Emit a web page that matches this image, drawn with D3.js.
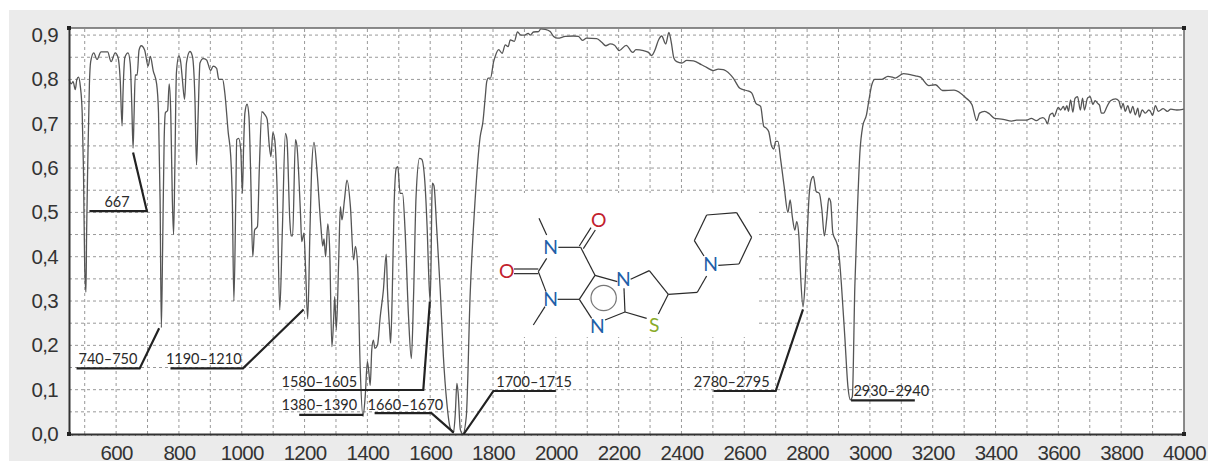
<!DOCTYPE html>
<html>
<head>
<meta charset="utf-8">
<script src="https://cdn.jsdelivr.net/npm/d3@7"></script>
<style>
  html, body { margin: 0; padding: 0; background: #fff; }
  svg { display: block; font-family: Lato, sans-serif; }
  .grid line { stroke: #999; stroke-width: 1; stroke-dasharray: 3 3; }
  .ticklabels text { font-size: 20.5px; letter-spacing: -0.7px; fill: #333; }
  .note { font-size: 14.5px; fill: #2a2a2a; text-anchor: middle; }
  .leader { fill: none; stroke: #222; stroke-width: 2.2; }
</style>
</head>
<body>
<div id="chart"></div>
<script>
var width = 1208, height = 461;

var xTicks = [600, 800, 1000, 1200, 1400, 1600, 1800, 2000, 2200, 2400, 2600, 2800, 3000, 3200, 3400, 3600, 3800, 4000];
var yTicks = [0, 0.1, 0.2, 0.3, 0.4, 0.5, 0.6, 0.7, 0.8, 0.9];

var wavenumber = [
  450, 457, 463, 470, 475, 480, 486, 492, 496, 500,
  504, 506, 510, 515, 519, 529, 539, 552, 573, 584,
  597, 606, 613, 619, 622, 628, 638, 645, 650, 654,
  657, 661, 667, 673, 680, 691, 702, 709, 718, 729,
  735, 740, 744, 748, 753, 757, 764, 769, 774, 779,
  783, 787, 792, 800, 806, 811, 818, 824, 835, 843,
  851, 856, 861, 867, 877, 888, 901, 909, 920, 927,
  939, 946, 957, 965, 970, 975, 981, 984, 990, 997,
  1002, 1006, 1010, 1017, 1023, 1028, 1035, 1041, 1050, 1056,
  1064, 1074, 1081, 1087, 1093, 1099, 1105, 1112, 1121, 1129,
  1139, 1144, 1153, 1157, 1162, 1171, 1176, 1187, 1191, 1198,
  1203, 1210, 1217, 1222, 1230, 1240, 1252, 1258, 1262, 1267,
  1274, 1280, 1287, 1293, 1296, 1301, 1309, 1314, 1319, 1327,
  1335, 1346, 1356, 1362, 1369, 1377, 1386, 1393, 1400, 1405,
  1409, 1414, 1419, 1424, 1432, 1441, 1451, 1460, 1464, 1471,
  1474, 1479, 1485, 1492, 1497, 1504, 1512, 1520, 1531, 1540,
  1547, 1555, 1566, 1573, 1584, 1590, 1597, 1600, 1603, 1605,
  1607, 1612, 1621, 1632, 1642, 1653, 1664, 1674, 1680, 1685,
  1689, 1696, 1704, 1715, 1727, 1743, 1759, 1768, 1775, 1780,
  1785, 1792, 1802, 1807, 1818, 1829, 1839, 1848, 1855, 1868,
  1878, 1889, 1900, 1912, 1918, 1929, 1945, 1952, 1966, 1982,
  1993, 2006, 2030, 2056, 2072, 2085, 2098, 2130, 2146, 2159,
  2173, 2187, 2202, 2224, 2245, 2255, 2279, 2295, 2305, 2316,
  2327, 2337, 2350, 2360, 2367, 2376, 2385, 2401, 2417, 2438,
  2464, 2480, 2501, 2517, 2533, 2554, 2565, 2586, 2607, 2623,
  2637, 2652, 2662, 2670, 2678, 2687, 2694, 2700, 2707, 2716,
  2727, 2739, 2746, 2753, 2761, 2767, 2774, 2780, 2787, 2793,
  2800, 2807, 2815, 2820, 2829, 2839, 2847, 2855, 2863, 2869,
  2875, 2882, 2893, 2900, 2909, 2920, 2930, 2938, 2944, 2952,
  2961, 2968, 2977, 2989, 2997, 3006, 3016, 3038, 3057, 3072,
  3081, 3107, 3145, 3161, 3188, 3209, 3231, 3268, 3306, 3325,
  3340, 3349, 3365, 3381, 3397, 3424, 3451, 3467, 3499, 3514,
  3530, 3542, 3551, 3559, 3565, 3573, 3582, 3586, 3600, 3607,
  3616, 3621, 3627, 3632, 3639, 3646, 3653, 3661, 3670, 3677,
  3683, 3693, 3701, 3710, 3717, 3725, 3731, 3737, 3744, 3755,
  3766, 3782, 3792, 3800, 3806, 3813, 3821, 3829, 3837, 3845,
  3853, 3858, 3867, 3877, 3888, 3893, 3900, 3909, 3918, 3934,
  3947, 3958, 3977, 4000
];

var transmittance = [
  0.80, 0.79, 0.795, 0.777, 0.80, 0.805, 0.785, 0.725, 0.60, 0.377,
  0.32, 0.45, 0.62, 0.79, 0.84, 0.86, 0.845, 0.862, 0.862, 0.84,
  0.86, 0.85, 0.80, 0.695, 0.77, 0.85, 0.86, 0.835, 0.74, 0.645,
  0.715, 0.81, 0.81, 0.866, 0.876, 0.866, 0.83, 0.852, 0.82, 0.79,
  0.725, 0.53, 0.24, 0.415, 0.665, 0.725, 0.73, 0.79, 0.725, 0.53,
  0.45, 0.60, 0.815, 0.853, 0.837, 0.80, 0.755, 0.837, 0.863, 0.852,
  0.755, 0.607, 0.716, 0.837, 0.847, 0.844, 0.82, 0.83, 0.825, 0.80,
  0.80, 0.77, 0.68, 0.626, 0.528, 0.30, 0.53, 0.664, 0.667, 0.64,
  0.543, 0.65, 0.724, 0.744, 0.716, 0.60, 0.40, 0.46, 0.468, 0.60,
  0.727, 0.72, 0.71, 0.656, 0.626, 0.68, 0.664, 0.566, 0.28, 0.453,
  0.678, 0.664, 0.483, 0.447, 0.447, 0.664, 0.648, 0.498, 0.434, 0.453,
  0.377, 0.26, 0.453, 0.588, 0.658, 0.59, 0.468, 0.424, 0.44, 0.40,
  0.474, 0.415, 0.197, 0.265, 0.31, 0.235, 0.40, 0.513, 0.483, 0.528,
  0.573, 0.513, 0.393, 0.423, 0.378, 0.152, 0.04, 0.084, 0.163, 0.137,
  0.11, 0.19, 0.212, 0.193, 0.20, 0.265, 0.325, 0.406, 0.325, 0.235,
  0.205, 0.31, 0.513, 0.60, 0.603, 0.543, 0.543, 0.46, 0.265, 0.17,
  0.31, 0.536, 0.622, 0.62, 0.558, 0.47, 0.33, 0.30, 0.40, 0.52,
  0.566, 0.56, 0.46, 0.325, 0.175, 0.07, 0.013, 0.003, 0.047, 0.114,
  0.092, 0.01, 0.0, 0.04, 0.31, 0.528, 0.67, 0.705, 0.758, 0.795,
  0.803, 0.803, 0.84, 0.852, 0.867, 0.859, 0.878, 0.874, 0.889, 0.886,
  0.907, 0.90, 0.90, 0.904, 0.90, 0.907, 0.908, 0.914, 0.913, 0.908,
  0.897, 0.893, 0.897, 0.898, 0.897, 0.888, 0.893, 0.892, 0.884, 0.876,
  0.88, 0.877, 0.865, 0.877, 0.861, 0.867, 0.865, 0.861, 0.854, 0.867,
  0.889, 0.898, 0.88, 0.906, 0.886, 0.848, 0.84, 0.837, 0.843, 0.842,
  0.833, 0.827, 0.82, 0.823, 0.822, 0.812, 0.803, 0.78, 0.775, 0.77,
  0.746, 0.739, 0.694, 0.69, 0.682, 0.649, 0.643, 0.66, 0.66, 0.618,
  0.558, 0.50, 0.528, 0.49, 0.46, 0.479, 0.445, 0.348, 0.287, 0.333,
  0.445, 0.543, 0.577, 0.581, 0.547, 0.543, 0.506, 0.447, 0.49, 0.532,
  0.524, 0.453, 0.434, 0.415, 0.34, 0.22, 0.107, 0.077, 0.084, 0.333,
  0.52, 0.634, 0.694, 0.72, 0.754, 0.788, 0.80, 0.80, 0.807, 0.805,
  0.803, 0.813, 0.808, 0.805, 0.786, 0.788, 0.775, 0.776, 0.758, 0.743,
  0.707, 0.724, 0.728, 0.722, 0.712, 0.71, 0.706, 0.708, 0.708, 0.712,
  0.707, 0.712, 0.714, 0.709, 0.70, 0.72, 0.724, 0.716, 0.737, 0.731,
  0.739, 0.731, 0.741, 0.728, 0.754, 0.726, 0.757, 0.761, 0.731, 0.758,
  0.731, 0.758, 0.761, 0.744, 0.752, 0.746, 0.742, 0.724, 0.724, 0.739,
  0.752, 0.756, 0.752, 0.735, 0.746, 0.728, 0.741, 0.724, 0.739, 0.72,
  0.735, 0.715, 0.731, 0.724, 0.731, 0.728, 0.719, 0.741, 0.728, 0.734,
  0.728, 0.733, 0.731, 0.733
];

// peak labels: text, where it sits, and the leader drawn under it
var noteLabels = ["667", "740–750", "1190–1210", "1580–1605", "1380–1390", "1660–1670", "1700–1715", "2780–2795", "2930–2940"];
var noteAnchors = [[603, 0.512], [574, 0.158], [879, 0.158], [1247, 0.107], [1247, 0.054], [1521, 0.054], [1931, 0.107], [2560, 0.106], [3068, 0.0865]];
var noteLeaders = [
  [[515, 0.503], [698, 0.503], [654, 0.635]],
  [[474, 0.148], [675, 0.148], [737, 0.2385]],
  [[773, 0.148], [1004, 0.148], [1197, 0.281]],
  [[1200, 0.0993], [1578, 0.0993], [1599, 0.299]],
  [[1183, 0.043], [1386, 0.043]],
  [[1423, 0.047], [1604, 0.047], [1675, 0.003]],
  [[1707, 0], [1801, 0.097], [2000, 0.097]],
  [[2502, 0.097], [2700, 0.097], [2787, 0.281]],
  [[2940, 0.076], [3143, 0.076]]
];

var svg = d3.select("#chart").append("svg")
  .attr("width", width)
  .attr("height", height);

// grey panel behind the plot
svg.append("rect").attr("x", 9).attr("y", 10).attr("width", width - 9).attr("height", height - 10).attr("fill", "#ebebeb");

var x = d3.scaleLinear().domain([450, 4000]).range([69, 1184]);
var y = d3.scaleLinear().domain([0, 0.916]).range([434, 28]);

svg.append("rect")
  .attr("x", x.range()[0]).attr("y", y.range()[1])
  .attr("width", x.range()[1] - x.range()[0])
  .attr("height", y.range()[0] - y.range()[1])
  .attr("fill", "#fff");

var grid = svg.append("g").attr("class", "grid");
grid.selectAll(".v").data(d3.range(500, 4000, 100)).enter().append("line")
  .attr("class", "v")
  .attr("x1", x).attr("x2", x)
  .attr("y1", y.range()[0]).attr("y2", y.range()[1]);
grid.selectAll(".h").data(d3.range(1, 19).map(function(d) { return d * 0.05; })).enter().append("line")
  .attr("class", "h")
  .attr("x1", x.range()[0]).attr("x2", x.range()[1])
  .attr("y1", y).attr("y2", y);

// the structure is pasted over the grid on a white patch
svg.append("rect").attr("x", 498).attr("y", 193).attr("width", 259).attr("height", 144).attr("fill", "#fff");

var line = d3.line()
  .x(function(d) { return x(d[0]); })
  .y(function(d) { return y(d[1]); })
  .curve(d3.curveMonotoneX);

svg.append("path")
  .datum(d3.zip(wavenumber, transmittance))
  .attr("d", line)
  .attr("fill", "none")
  .attr("stroke", "#555")
  .attr("stroke-width", 1.3);

// frame
svg.append("path")
  .attr("d", "M69,28H1184V434")
  .attr("fill", "none").attr("stroke", "#666").attr("stroke-width", 1.5);

var minorAxis = d3.axisBottom(x).tickValues(d3.range(460, 4000, 20)).tickSize(2).tickFormat("");
svg.append("g").attr("transform", "translate(0,434)").call(minorAxis)
  .call(function(g) { g.select(".domain").remove(); g.selectAll("line").attr("stroke", "#888"); });

var xAxis = d3.axisBottom(x).tickValues(xTicks).tickFormat(d3.format("d")).tickSize(0).tickPadding(11);
svg.append("g").attr("class", "ticklabels").attr("transform", "translate(0,434)").call(xAxis)
  .call(function(g) {
    g.select(".domain").attr("stroke", "#333").attr("stroke-width", 2);
    g.selectAll("text").attr("font-family", null).attr("dy", "0.71em");
  });

var yAxis = d3.axisLeft(y).tickValues(yTicks)
  .tickFormat(function(d) { return d.toFixed(1).replace(".", ","); })
  .tickSize(0).tickPadding(11);
svg.append("g").attr("class", "ticklabels").attr("transform", "translate(69,0)").call(yAxis)
  .call(function(g) { g.select(".domain").attr("stroke", "#333").attr("stroke-width", 2); });

// little black squares on the frame corners
[[69, 28], [69, 434], [1184, 28], [1184, 434]].forEach(function(c) {
  svg.append("rect").attr("x", c[0] - 2).attr("y", c[1] - 2).attr("width", 4).attr("height", 4).attr("fill", "#222");
});

var leaderLine = d3.line().x(function(d) { return x(d[0]); }).y(function(d) { return y(d[1]); });
svg.selectAll(".leader").data(noteLeaders).enter().append("path")
  .attr("class", "leader")
  .attr("d", leaderLine);
svg.selectAll(".note").data(noteLabels).enter().append("text")
  .attr("class", "note")
  .attr("x", function(d, i) { return x(noteAnchors[i][0]); })
  .attr("y", function(d, i) { return y(noteAnchors[i][1]); })
  .text(function(d) { return d; });

// structure, in its own drawing units (3 units = 1 px)
var bonds = [
  [147, 85, 170, 135], [205, 172, 272, 172], [268, 168, 303, 113], [280, 176, 316, 120],
  [272, 172, 315, 256], [315, 256, 382, 275], [315, 256, 268, 328], [268, 328, 203, 328],
  [168, 305, 145, 245], [145, 245, 170, 205], [72, 237, 145, 237], [72, 251, 145, 251],
  [165, 350, 130, 405], [268, 328, 305, 385], [345, 390, 405, 366], [405, 366, 402, 295],
  [405, 366, 470, 385], [505, 372, 535, 313], [535, 313, 478, 242], [478, 242, 422, 268],
  [535, 313, 622, 307], [622, 307, 650, 258], [642, 198, 613, 152], [613, 152, 650, 75],
  [650, 75, 740, 68], [740, 68, 785, 142], [785, 142, 747, 222], [747, 222, 685, 226]
];
var atoms = [
  ["N", 182, 172, "#1f5fa8"], ["N", 182, 327, "#1f5fa8"], ["O", 50, 243, "#c2202c"],
  ["O", 326, 90, "#c2202c"], ["N", 400, 268, "#1f5fa8"], ["N", 322, 408, "#1f5fa8"],
  ["S", 493, 405, "#8aab2a"], ["N", 662, 222, "#1f5fa8"]
];

var mol = svg.append("g").attr("transform", "translate(490,190) scale(0.3333)");
mol.selectAll("line").data(bonds).enter().append("line")
  .attr("x1", function(d) { return d[0]; }).attr("y1", function(d) { return d[1]; })
  .attr("x2", function(d) { return d[2]; }).attr("y2", function(d) { return d[3]; })
  .attr("stroke", "#2a2a2a").attr("stroke-width", 3.6);
mol.append("circle").attr("cx", 341).attr("cy", 324).attr("r", 38)
  .attr("fill", "none").attr("stroke", "#777").attr("stroke-width", 3.6);
mol.selectAll("text").data(atoms).enter().append("text")
  .attr("x", function(d) { return d[1]; }).attr("y", function(d) { return d[2]; })
  .attr("dy", "0.36em").attr("text-anchor", "middle")
  .attr("font-size", 58).attr("fill", function(d) { return d[3]; })
  .text(function(d) { return d[0]; });
</script>
</body>
</html>
